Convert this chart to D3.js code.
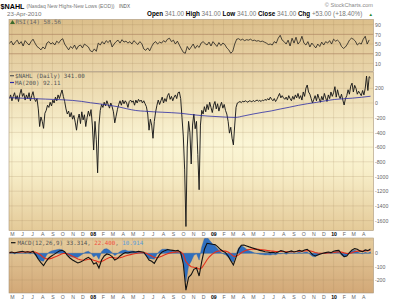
<!DOCTYPE html>
<html><head><meta charset="utf-8">
<script src="https://cdn.jsdelivr.net/npm/d3@7/dist/d3.min.js"></script>
<style>body{margin:0;background:#fff}svg{display:block}</style>
</head><body>
<script>
// ---------------- DATA ----------------
const startDate = "2007-04-23";
const endDate = "2010-04-23";
const nahlStepDays = 4;
const nahl = [
 60,110,30,90,140,50,100,20,120,186,
 90,130,40,110,60,140,30,100,154,60,
 20,60,-80,-320,-190,-250,-345,-140,-100,-30,
 -60,10,-40,40,0,80,30,110,60,120,
 177,90,20,-80,-150,-110,-190,-130,-220,-170,
 -260,-370,-220,-150,-280,-120,-230,-160,-320,-200,
 -110,-180,-90,-300,-640,-250,-500,-950,-300,-100,
 -20,-60,10,-40,30,-20,-70,0,-50,-120,
 -270,-180,-90,-20,30,-30,40,-10,30,0,
 -60,20,40,10,30,-30,40,0,50,20,
 40,0,30,-10,-50,-150,-370,-220,-300,-480,
 -250,-120,-30,40,-20,30,80,0,60,20,
 100,130,50,90,30,80,110,60,140,150,
 60,-200,-450,-900,-1680,-600,-250,-400,-830,-300,
 -150,-350,-250,-700,-1180,-300,-100,-150,-50,-120,
 -20,-90,10,-60,-130,-30,20,-80,-10,-110,
 -40,10,-70,-20,-100,-150,-250,-410,-330,-480,
 -570,-300,-60,0,10,20,5,25,15,30,
 20,10,30,25,15,35,20,30,40,25,
 35,20,40,30,50,35,60,40,80,50,
 30,60,20,50,90,130,70,100,70,50,
 80,40,100,60,30,90,50,110,70,130,
 60,100,40,150,90,200,245,150,120,60,
 0,50,100,30,120,60,10,90,40,130,
 70,20,110,60,150,90,140,222,80,180,
 100,60,120,40,-27,60,100,180,120,230,
 270,150,240,200,120,160,130,100,170,110,
 200,367,170,358,341];
const maStepDays = 27.4;
const ma200 = [72,68,63,58,53,48,43,35,22,3,-12,-30,-50,-78,-102,-112,-120,-126,-132,-140,
 -155,-168,-178,-185,-192,-196,-175,-150,-128,-108,-82,-58,-32,-10,8,30,48,58,66,78,92];
const rsiStepDays = 6;
const rsi = [
 51,56,48,54,58,50,55,46,57,52,
 48,55,60,52,45,42,38,44,40,52,
 55,50,53,48,56,52,58,61,50,44,
 38,45,41,48,39,46,48,42,50,47,
 44,36,34,40,35,52,48,55,50,57,
 53,58,44,50,55,58,52,59,54,56,
 52,55,50,57,53,49,55,51,40,37,
 42,36,45,52,55,50,54,52,57,54,
 60,62,55,58,50,56,48,40,33,31,
 45,38,44,50,41,47,43,52,55,51,
 48,54,46,55,50,45,53,47,52,49,
 42,38,31,35,50,60,61,58,60,57,
 59,58,60,57,58,56,57,55,56,54,
 52,49,50,48,55,52,62,68,58,55,
 50,58,46,62,52,64,50,55,66,52,
 48,55,44,52,47,42,50,45,54,48,
 55,52,57,50,60,56,58,54,45,41,
 44,50,58,62,60,56,48,52,50,60,
 66,50,58.56];
const macdStepDays = 8;
const macd = [
 5,10,2,8,12,15,8,12,6,15,
 -10,-45,-70,-92,-60,-35,-20,-8,5,18,
 22,12,-15,-35,-50,-62,-72,-65,-55,-40,
 -30,-45,-80,-70,-110,-50,-20,-5,-10,-25,
 -50,-40,-20,-5,5,2,8,12,10,15,
 12,8,-20,-50,-60,-75,-40,-10,10,20,
 28,25,22,18,22,5,-80,-276,-180,-160,
 -120,-110,-170,-60,30,75,72,68,65,50,
 30,15,5,-20,-55,-88,-30,30,60,62,
 55,48,42,35,28,22,18,12,10,5,
 8,2,10,20,15,5,12,18,10,15,
 22,15,25,30,12,-10,-20,-12,-5,0,
 5,10,5,15,20,22,-5,-25,-20,5,
 25,35,30,18,12,25,20,33.314];
const signal = [
 5,6,6,6,8,10,10,11,10,11,
 8,-2,-15,-32,-42,-42,-38,-30,-22,-12,
 -4,0,-4,-12,-22,-32,-42,-48,-52,-50,
 -45,-45,-52,-57,-66,-62,-52,-40,-32,-30,
 -34,-36,-33,-27,-20,-15,-10,-5,-2,2,
 4,5,0,-10,-20,-31,-33,-28,-20,-11,
 -3,3,7,9,12,11,-8,-62,-86,-101,
 -105,-106,-119,-108,-80,-48,-24,-6,8,16,
 19,18,16,9,-4,-21,-23,-12,4,16,
 24,28,31,32,31,29,27,24,21,18,
 16,13,13,14,14,12,12,13,12,13,
 15,15,17,20,19,13,6,2,0,0,
 1,3,4,6,9,12,9,3,-2,-1,
 5,12,16,17,16,18,19,22.4];
const hist = [
 0,4,-4,2,4,5,-2,1,-4,4,
 -18,-43,-55,-60,-18,7,18,22,27,30,
 26,12,-11,-23,-28,-30,-30,-17,-3,10,
 15,0,-28,-13,-44,12,32,35,22,5,
 -16,-4,13,22,25,17,18,17,12,13,
 8,3,-20,-40,-40,-44,-7,18,30,31,
 31,22,15,9,10,-6,-72,-214,-94,-59,
 -15,-4,-51,48,110,123,96,74,57,34,
 11,-3,-11,-29,-51,-67,-7,42,56,46,
 31,20,11,3,-3,-7,-9,-12,-11,-13,
 -8,-11,-3,-4,1,-7,0,5,-2,2,
 7,0,8,10,-7,-23,-26,-14,-5,0,
 4,7,1,9,11,10,-14,-28,-18,6,
 20,23,14,1,-4,7,1,10.914];
const monthLabels = ["M","J","J","A","S","O","N","D",
 "08","F","M","A","M","J","J","A","S","O","N","D",
 "09","F","M","A","M","J","J","A","S","O","N","D",
 "10","F","M","A"];
const mainTicks = [200,0,-200,-400,-600,-800,-1000,-1200,-1400,-1600];
const rsiTicks = [90,70,50,30,10];
const macdTicks = [0,-100,-200];

// ---------------- CHART ----------------
const DAY = 864e5;
const t0 = new Date(startDate + "T00:00:00Z");
const t1 = new Date(endDate + "T00:00:00Z");
const dateAt = (i, step) => new Date(t0.getTime() + i * step * DAY);
const L = 9, R = 373.5;
const x = d3.scaleUtc().domain([t0, t1]).range([9.3, 370.5]);
const yR = d3.scaleLinear().domain([0, 100]).range([68.3, 19.8]);
const yM = d3.scaleLinear().domain([0, -1600]).range([103, 220.6]);
const yC = d3.scaleLinear().domain([0, -200]).range([253.3, 280]);

const svg = d3.select("body").append("svg").attr("width", 400).attr("height", 303)
  .style("font-family", "'Liberation Sans', Arial, sans-serif");
const defs = svg.append("defs");
function grad(id, stops) {
  const g = defs.append("linearGradient").attr("id", id).attr("x1", 0).attr("x2", 0).attr("y1", 0).attr("y2", 1);
  stops.forEach(([o, c]) => g.append("stop").attr("offset", o).attr("stop-color", c));
}
grad("gR", [[0, "#dcbf8b"], [1, "#e9d5aa"]]);
grad("gM", [[0, "#e8d3a6"], [0.45, "#fbf6d6"], [0.62, "#f8efca"], [1, "#e4ca98"]]);
grad("gC", [[0, "#e6cd9e"], [1, "#d2a877"]]);

const panels = [
  { id: "R", top: 19.5, bottom: 71.5, fill: "url(#gR)", y: yR, ticks: rsiTicks },
  { id: "M", top: 72, bottom: 230.5, fill: "url(#gM)", y: yM, ticks: mainTicks },
  { id: "C", top: 238, bottom: 293, fill: "url(#gC)", y: yC, ticks: [100, 0, -100, -200] }
];
const months = d3.utcMonth.range(new Date("2007-05-01T00:00:00Z"), new Date("2010-05-01T00:00:00Z"));

panels.forEach(p => {
  defs.append("clipPath").attr("id", "clip" + p.id).append("rect")
    .attr("x", L).attr("y", p.top).attr("width", R - L).attr("height", p.bottom - p.top);
  svg.append("rect").attr("x", L).attr("y", p.top).attr("width", R - L).attr("height", p.bottom - p.top)
    .attr("fill", p.fill);
  const g = svg.append("g").attr("clip-path", `url(#clip${p.id})`);
  g.selectAll(".v").data(months).join("line")
    .attr("x1", d => x(d)).attr("x2", d => x(d)).attr("y1", p.top).attr("y2", p.bottom)
    .attr("stroke", "#9b7d55").attr("stroke-opacity", 0.25).attr("stroke-width", 0.7);
  g.selectAll(".h").data(p.ticks).join("line")
    .attr("x1", L).attr("x2", R).attr("y1", d => p.y(d)).attr("y2", d => p.y(d))
    .attr("stroke", d => (p.id === "R" && (d === 70 || d === 30)) ? "#a57a5c" : "#9b7d55")
    .attr("stroke-opacity", d => (p.id === "R" && (d === 70 || d === 30)) ? 0.85 : 0.28)
    .attr("stroke-width", 0.7);
  p.g = g;
});

// RSI
panels[0].g.append("path").datum(rsi)
  .attr("d", d3.line().x((d, i) => x(dateAt(i, rsiStepDays))).y(d => yR(d)))
  .attr("fill", "none").attr("stroke", "#151515").attr("stroke-width", 0.75);

// Main
panels[1].g.append("path").datum(nahl)
  .attr("d", d3.line().x((d, i) => x(dateAt(i, nahlStepDays))).y(d => yM(d)))
  .attr("fill", "none").attr("stroke", "#1a1a1a").attr("stroke-width", 0.95);
panels[1].g.append("path").datum(ma200)
  .attr("d", d3.line().curve(d3.curveMonotoneX).x((d, i) => x(dateAt(i, maStepDays))).y(d => yM(d)))
  .attr("fill", "none").attr("stroke", "#2b2ba6").attr("stroke-width", 0.8);

// MACD
panels[2].g.append("path").datum(hist)
  .attr("d", d3.area().x((d, i) => x(dateAt(i, macdStepDays))).y0(yC(0)).y1(d => yC(d)))
  .attr("fill", "#2f6fbf").attr("stroke", "#2a5fa8").attr("stroke-width", 0.4);
panels[2].g.append("path").datum(signal)
  .attr("d", d3.line().x((d, i) => x(dateAt(i, macdStepDays))).y(d => yC(d)))
  .attr("fill", "none").attr("stroke", "#e5301c").attr("stroke-width", 1.1);
panels[2].g.append("path").datum(macd)
  .attr("d", d3.line().x((d, i) => x(dateAt(i, macdStepDays))).y(d => yC(d)))
  .attr("fill", "none").attr("stroke", "#111").attr("stroke-width", 1.1);

// panel borders
panels.forEach(p => {
  svg.append("rect").attr("x", L).attr("y", p.top).attr("width", R - L).attr("height", p.bottom - p.top)
    .attr("fill", "none").attr("stroke", "#a89478").attr("stroke-width", 0.6);
});

// right axes
function rightAxis(y, ticks) {
  const g = svg.append("g").attr("transform", `translate(${R},0)`)
    .call(d3.axisRight(y).tickValues(ticks).tickSize(0).tickPadding(1.5).tickFormat(d => String(d)));
  g.select(".domain").remove();
  g.selectAll("text").attr("fill", "#666").style("font-size", "5.2px")
    .style("font-family", "'Liberation Sans', Arial, sans-serif");
}
rightAxis(yR, rsiTicks);
rightAxis(yM, mainTicks);
rightAxis(yC, macdTicks);

// month axes
function monthAxis(yPos) {
  const g = svg.append("g").attr("transform", `translate(0,${yPos})`)
    .call(d3.axisBottom(x).tickValues(months).tickSize(0).tickPadding(0).tickFormat((d, i) => monthLabels[i]));
  g.select(".domain").remove();
  g.selectAll("text").style("font-size", "5.2px")
    .style("font-family", "'Liberation Sans', Arial, sans-serif")
    .attr("fill", (d, i) => monthLabels[i].length === 2 ? "#000" : "#666")
    .style("font-weight", (d, i) => monthLabels[i].length === 2 ? "bold" : "normal");
}
monthAxis(232.2);
monthAxis(295.6);

// header
const hdr = svg.append("g");
hdr.append("text").attr("x", 0.5).attr("y", 8.5).style("font-size", "7.2px").style("font-weight", "bold").attr("fill", "#000").text("$NAHL");
hdr.append("text").attr("x", 26.5).attr("y", 8.3).style("font-size", "5.1px").attr("fill", "#777").text("(Nasdaq New Highs-New Lows (EOD))");
hdr.append("text").attr("x", 119).attr("y", 8.3).style("font-size", "4.6px").attr("fill", "#555").text("INDX");
hdr.append("text").attr("x", 373).attr("y", 7).attr("text-anchor", "end").style("font-size", "5.6px").attr("fill", "#888").text("© StockCharts.com");
hdr.append("text").attr("x", 7).attr("y", 16).style("font-size", "6.2px").attr("fill", "#777").text("23-Apr-2010");
const ohlc = hdr.append("text").attr("x", 147).attr("y", 16).style("font-size", "6.3px");
[["Open", "341.00"], ["High", "341.00"], ["Low", "341.00"], ["Close", "341.00"], ["Chg", "+53.00 (+18.40%)"]].forEach(([k, v], i) => {
  ohlc.append("tspan").style("font-weight", "bold").attr("fill", "#000").text((i ? " " : "") + k + " ");
  ohlc.append("tspan").attr("fill", "#777").text(v);
});
hdr.append("text").attr("x", 368.5).attr("y", 16).style("font-size", "4.5px").attr("fill", "#2a8a2a").text("▲");

// legends
const mono = "'DejaVu Sans Mono', 'Liberation Mono', monospace";
svg.append("path").attr("d", "M10,24 L12.5,20 L15,24 Z").attr("fill", "#3a6a2a");
svg.append("text").attr("x", 15.5).attr("y", 24.2).style("font-family", mono).style("font-size", "5.8px").attr("fill", "#666").text("RSI(14) 58.56");

svg.append("line").attr("x1", 10).attr("x2", 14).attr("y1", 75.7).attr("y2", 75.7).attr("stroke", "#555").attr("stroke-width", 1.2);
svg.append("text").attr("x", 15).attr("y", 77.7).style("font-family", mono).style("font-size", "5.8px").attr("fill", "#555").text("$NAHL (Daily) 341.00");
svg.append("line").attr("x1", 10).attr("x2", 14).attr("y1", 82.5).attr("y2", 82.5).attr("stroke", "#2b2ba6").attr("stroke-width", 1.2);
svg.append("text").attr("x", 15).attr("y", 84.5).style("font-family", mono).style("font-size", "5.8px").attr("fill", "#555").text("MA(200) 92.11");

svg.append("line").attr("x1", 11).attr("x2", 15.5).attr("y1", 242.7).attr("y2", 242.7).attr("stroke", "#111").attr("stroke-width", 1.2);
const ml = svg.append("text").attr("x", 17.5).attr("y", 244.7).style("font-family", mono).style("font-size", "5.8px");
ml.append("tspan").attr("fill", "#555").text("MACD(12,26,9) 33.314, ");
ml.append("tspan").attr("fill", "#f05040").text("22.400");
ml.append("tspan").attr("fill", "#555").text(", ");
ml.append("tspan").attr("fill", "#5a9ad8").text("10.914");
</script>
</body></html>
